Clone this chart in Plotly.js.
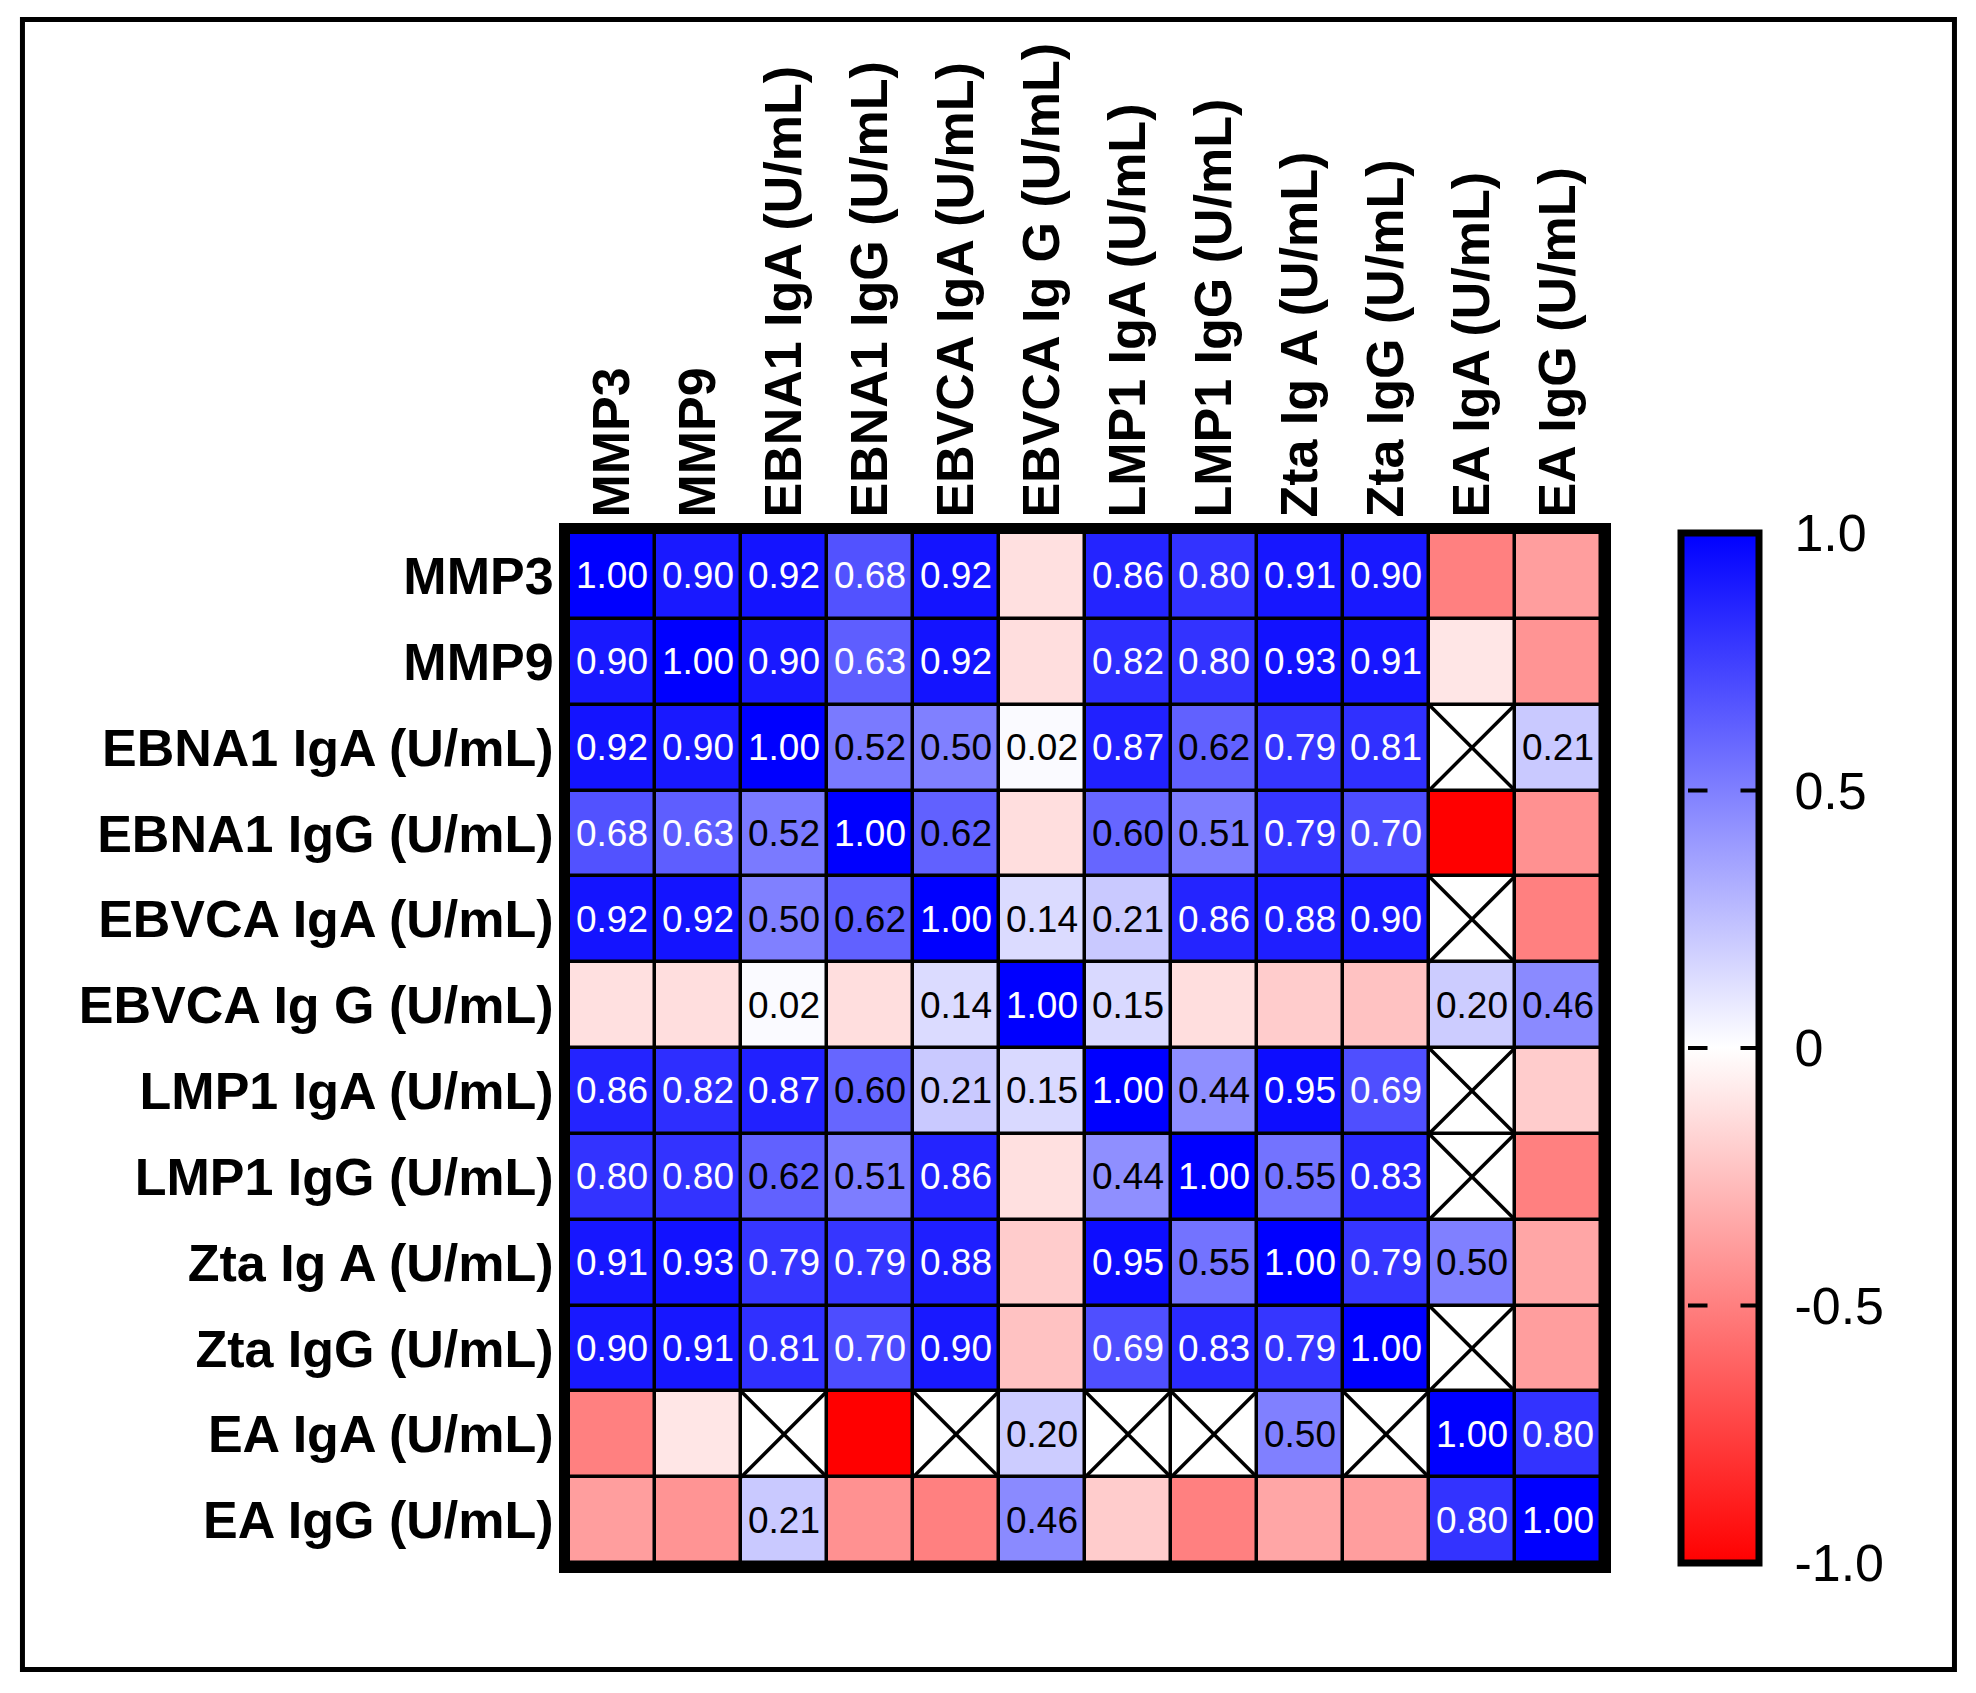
<!DOCTYPE html>
<html>
<head>
<meta charset="utf-8">
<script src="https://cdn.plot.ly/plotly-3.0.1.min.js"></script>
<style>html,body{margin:0;padding:0;background:#fff;}#chart{width:1976px;height:1693px;}</style>
</head>
<body>
<div id="chart"></div>
<script>
// Variables (same order for rows and columns)
const variables = ["MMP3", "MMP9", "EBNA1 IgA (U/mL)", "EBNA1 IgG (U/mL)", "EBVCA IgA (U/mL)",
  "EBVCA Ig G (U/mL)", "LMP1 IgA (U/mL)", "LMP1 IgG (U/mL)", "Zta Ig A (U/mL)", "Zta IgG (U/mL)",
  "EA IgA (U/mL)", "EA IgG (U/mL)"];

// Correlation rows (null = not computed, drawn as a crossed box)
const rowMMP3     = [1.00, 0.90, 0.92, 0.68, 0.92, -0.12, 0.86, 0.80, 0.91, 0.90, -0.50, -0.38];
const rowMMP9     = [0.90, 1.00, 0.90, 0.63, 0.92, -0.13, 0.82, 0.80, 0.93, 0.91, -0.10, -0.42];
const rowEBNA1IgA = [0.92, 0.90, 1.00, 0.52, 0.50, 0.02, 0.87, 0.62, 0.79, 0.81, null, 0.21];
const rowEBNA1IgG = [0.68, 0.63, 0.52, 1.00, 0.62, -0.13, 0.60, 0.51, 0.79, 0.70, -1.00, -0.43];
const rowEBVCAIgA = [0.92, 0.92, 0.50, 0.62, 1.00, 0.14, 0.21, 0.86, 0.88, 0.90, null, -0.50];
const rowEBVCAIgG = [-0.12, -0.13, 0.02, -0.13, 0.14, 1.00, 0.15, -0.13, -0.20, -0.24, 0.20, 0.46];
const rowLMP1IgA  = [0.86, 0.82, 0.87, 0.60, 0.21, 0.15, 1.00, 0.44, 0.95, 0.69, null, -0.20];
const rowLMP1IgG  = [0.80, 0.80, 0.62, 0.51, 0.86, -0.12, 0.44, 1.00, 0.55, 0.83, null, -0.50];
const rowZtaIgA   = [0.91, 0.93, 0.79, 0.79, 0.88, -0.20, 0.95, 0.55, 1.00, 0.79, 0.50, -0.35];
const rowZtaIgG   = [0.90, 0.91, 0.81, 0.70, 0.90, -0.24, 0.69, 0.83, 0.79, 1.00, null, -0.38];
const rowEAIgA    = [-0.50, -0.10, null, -1.00, null, 0.20, null, null, 0.50, null, 1.00, 0.80];
const rowEAIgG    = [-0.38, -0.42, 0.21, -0.43, -0.50, 0.46, -0.20, -0.50, -0.35, -0.38, 0.80, 1.00];

const colorTickVals = [-1, -0.5, 0, 0.5, 1];
const colorTickText = ["-1.0", "-0.5", "0", "0.5", "1.0"];

const z = [rowMMP3, rowMMP9, rowEBNA1IgA, rowEBNA1IgG, rowEBVCAIgA, rowEBVCAIgG,
           rowLMP1IgA, rowLMP1IgG, rowZtaIgA, rowZtaIgG, rowEAIgA, rowEAIgG];

const n = variables.length;
const xIdx = variables.map((_, i) => i);
const yIdx = variables.map((_, i) => i);

// Missing-cell layer and crosses
const missingZ = z.map(r => r.map(v => v === null ? 1 : null));
const crossX = [], crossY = [];
z.forEach((r, j) => r.forEach((v, i) => {
  if (v === null) {
    crossX.push(i - 0.5, i + 0.5, null, i - 0.5, i + 0.5, null);
    crossY.push(j - 0.5, j + 0.5, null, j + 0.5, j - 0.5, null);
  }
}));

const font = "Liberation Sans, Arial, Helvetica, sans-serif";

const annotations = [];
z.forEach((r, j) => r.forEach((v, i) => {
  if (v !== null && v >= 0) {
    annotations.push({
      x: i, y: j, xref: "x", yref: "y", text: v.toFixed(2), showarrow: false,
      font: {family: font, size: 37, color: v >= 0.63 ? "#ffffff" : "#000000"}
    });
  }
}));

// Colorbar geometry (paper units, relative to the plot area 1032 x 1030 px)
const plotW = 1032;
const cbLeft = (1681 - 569) / plotW;
const cbInnerLeft = (1688 - 569) / plotW;
const cbInnerRight = (1760 - 569) / plotW;

// inside tick marks on both sides of the colour bar
colorTickVals.filter(v => Math.abs(v) < 1).forEach(v => {
  const yy = (v + 1) / 2;
  [[cbInnerLeft, 20], [cbInnerRight, -20]].forEach(([xx, off]) => {
    annotations.push({
      xref: "paper", yref: "paper", x: xx, y: yy, text: "", showarrow: true,
      ax: off, ay: 0, arrowhead: 0, arrowwidth: 4, arrowcolor: "#000",
      standoff: 0, startstandoff: 0, font: {size: 1}, borderpad: 0
    });
  });
});

const shapes = [{
  type: "rect", xref: "paper", yref: "paper",
  x0: -0.5296, x1: 1.3425, y0: -0.1034, y1: 1.4985,
  line: {color: "#000", width: 5}, fillcolor: "rgba(0,0,0,0)", layer: "above"
}];

const gap = 3.5;
const traces = [
  {
    type: "heatmap", x: xIdx, y: yIdx, z: z, zmin: -1, zmax: 1,
    colorscale: [[0, "rgb(255,0,0)"], [0.5, "rgb(255,255,255)"], [1, "rgb(0,0,255)"]],
    xgap: gap, ygap: gap, hoverongaps: false,
    colorbar: {
      xref: "paper", x: cbLeft, xanchor: "left", xpad: 0,
      yref: "paper", y: 0, yanchor: "bottom", ypad: 0,
      lenmode: "fraction", len: 1, thickness: 78,
      outlinewidth: 7, outlinecolor: "#000",
      tickmode: "array", tickvals: colorTickVals, ticktext: colorTickText,
      ticks: "outside", ticklen: 22, tickwidth: 1, tickcolor: "rgba(0,0,0,0)",
      tickfont: {family: font, size: 52, color: "#000"}
    }
  },
  {
    type: "heatmap", x: xIdx, y: yIdx, z: missingZ, zmin: 0, zmax: 1,
    colorscale: [[0, "#fff"], [1, "#fff"]], showscale: false, xgap: gap, ygap: gap,
    hoverinfo: "skip"
  },
  {
    type: "scatter", mode: "lines", x: crossX, y: crossY, showlegend: false,
    line: {color: "#000", width: 3.5}, hoverinfo: "skip", connectgaps: false
  }
];

const layout = {
  width: 1976, height: 1693,
  margin: {l: 569, r: 375, t: 533, b: 130, pad: 0},
  paper_bgcolor: "#fff", plot_bgcolor: "#000",
  showlegend: false,
  xaxis: {
    side: "top", tickmode: "array", tickvals: xIdx, ticktext: variables, tickangle: -90,
    range: [-0.5, n - 0.5], showgrid: false, zeroline: false, ticks: "",
    showline: true, mirror: true, linewidth: 10, linecolor: "#000",
    ticklabelstandoff: -5,
    tickfont: {family: font, size: 52, color: "#000", weight: "bold"}
  },
  yaxis: {
    tickmode: "array", tickvals: yIdx, ticktext: variables,
    range: [n - 0.5, -0.5], showgrid: false, zeroline: false, ticks: "",
    showline: true, mirror: true, linewidth: 10, linecolor: "#000",
    ticklabelstandoff: -5,
    tickfont: {family: font, size: 52, color: "#000", weight: "bold"}
  },
  annotations: annotations,
  shapes: shapes
};

Plotly.newPlot("chart", traces, layout, {displayModeBar: false, staticPlot: true});
</script>
</body>
</html>
